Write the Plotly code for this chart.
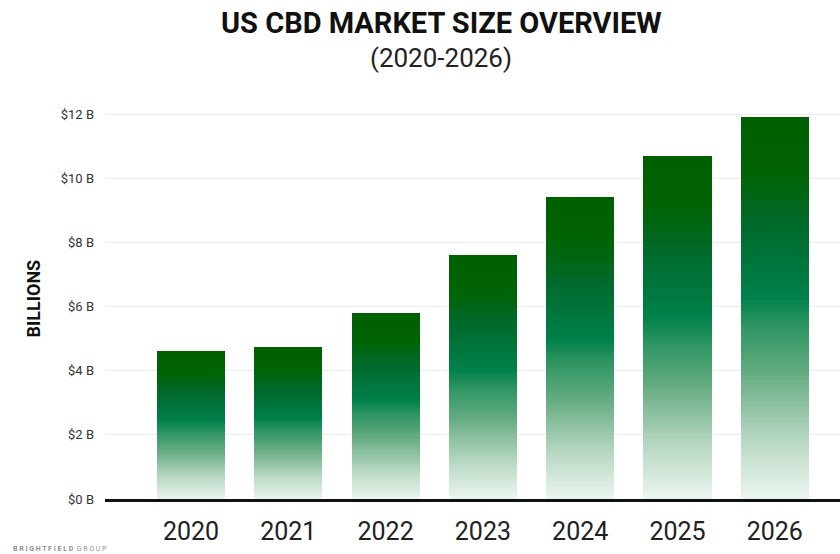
import plotly.graph_objects as go
from plotly.colors import sample_colorscale

years = ["2020", "2021", "2022", "2023", "2024", "2025", "2026"]
market_size_b = [4.6, 4.75, 5.8, 7.6, 9.4, 10.7, 11.9]
y_ticks = [0, 2, 4, 6, 8, 10, 12]
y_tick_labels = ["$0 B", "$2 B", "$4 B", "$6 B", "$8 B", "$10 B", "$12 B"]

# vertical gradient (fraction of bar height from bottom -> color)
gradient = [
    [0.0, "#ecf6f0"],
    [0.16, "#b5d6c1"],
    [0.32, "#6aae84"],
    [0.46, "#2a9360"],
    [0.53, "#00804a"],
    [0.72, "#006a2c"],
    [0.85, "#006305"],
    [1.0, "#006000"],
]

N = 90
fig = go.Figure()
for i in range(N):
    frac = (i + 0.5) / N
    col = sample_colorscale(gradient, [frac])[0]
    fig.add_trace(go.Bar(
        x=years,
        y=[v / N for v in market_size_b],
        marker=dict(color=col, line=dict(width=0)),
        width=0.70,
        hoverinfo="skip",
        showlegend=False,
    ))

L, T, B = 105, 98, 55
W, H = 840, 554
plot_w = W - L
plot_h = H - T - B

def px_y(py):
    return (H - B - py) / plot_h

def px_x(px):
    return (px - L) / plot_w

fig.update_layout(
    width=W, height=H,
    margin=dict(l=L, r=0, t=T, b=B),
    paper_bgcolor="white", plot_bgcolor="white",
    barmode="stack", bargap=0,
    font=dict(family="Roboto, Inter, sans-serif", color="#222"),
    xaxis=dict(
        type="category",
        range=[-0.884, 6.67],
        showline=True, linecolor="#111", linewidth=3,
        showgrid=False, ticks="",
        tickfont=dict(size=25, color="#222", family="Roboto"),
        ticklabelstandoff=8,
    ),
    yaxis=dict(
        range=[0, 12.5],
        tickvals=y_ticks, ticktext=y_tick_labels,
        showgrid=True, gridcolor="#ececec", gridwidth=1,
        zeroline=False, showline=False, ticks="",
        tickfont=dict(size=13, color="#333", family="Roboto"),
        ticklabelstandoff=10,
    ),
    annotations=[
        dict(text="<b>US CBD MARKET SIZE OVERVIEW</b>", xref="paper", yref="paper",
             x=px_x(441), y=px_y(23), xanchor="center", yanchor="middle",
             showarrow=False, font=dict(size=29, color="#111", family="Roboto")),
        dict(text="(2020-2026)", xref="paper", yref="paper",
             x=px_x(441), y=px_y(58), xanchor="center", yanchor="middle",
             showarrow=False, font=dict(size=26, color="#222", family="Roboto")),
        dict(text="<b>BILLIONS</b>", xref="paper", yref="paper",
             x=px_x(33), y=0.5, xanchor="center", yanchor="middle", textangle=-90,
             showarrow=False, font=dict(size=18, color="#111", family="Roboto")),
        dict(text="<b>B R I G H T F I E L D</b>  G R O U P", xref="paper", yref="paper",
             x=px_x(12), y=px_y(549), xanchor="left", yanchor="middle", borderpad=0,
             showarrow=False, font=dict(size=7, color="#8e909a", family="Roboto")),
    ],
)

fig.write_html("out.html")
